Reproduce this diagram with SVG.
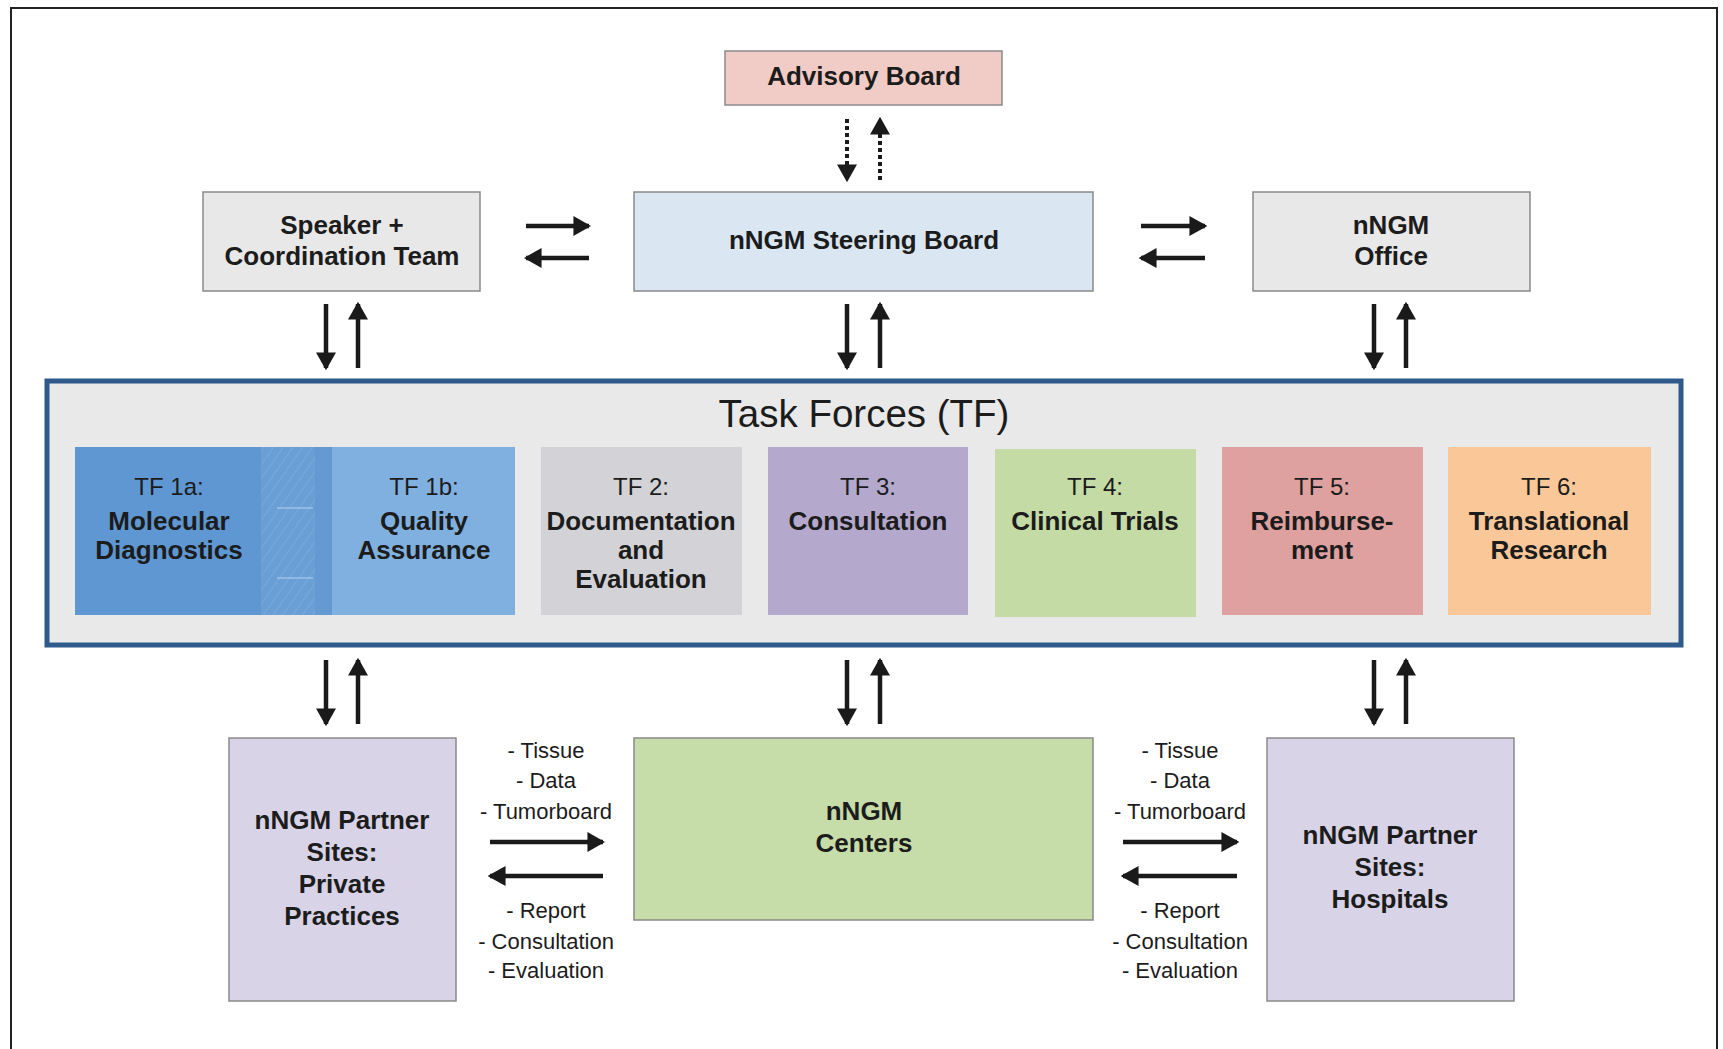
<svg xmlns="http://www.w3.org/2000/svg" width="1723" height="1049" viewBox="0 0 1723 1049">
<defs>
<style>
.box{stroke:#8a8a8a;stroke-width:1.5}
.b{font-family:"Liberation Sans",Arial,sans-serif;font-weight:bold;font-size:26px;fill:#1c1c1c;text-anchor:middle}
.r{font-family:"Liberation Sans",Arial,sans-serif;font-size:24px;fill:#1c1c1c;text-anchor:middle}
.l{font-family:"Liberation Sans",Arial,sans-serif;font-size:22px;fill:#1c1c1c;text-anchor:middle}
.t{font-family:"Liberation Sans",Arial,sans-serif;font-size:38.5px;fill:#1c1c1c;text-anchor:middle}
.a{stroke:#1a1a1a;stroke-width:4.5;fill:none;marker-end:url(#ah)}
.d{stroke:#1a1a1a;stroke-width:4;fill:none;stroke-dasharray:4 3;marker-end:url(#ah)}
</style>
<marker id="ah" markerUnits="userSpaceOnUse" markerWidth="18" markerHeight="20" viewBox="0 0 16 18" refX="14" refY="9" orient="auto">
<path d="M0,0 L16,9 L0,18 Z" fill="#1a1a1a"/>
</marker>
<pattern id="hatch" patternUnits="userSpaceOnUse" width="8" height="8" patternTransform="rotate(35)">
<rect width="8" height="8" fill="#6a9fd6"/>
<line x1="0" y1="0" x2="0" y2="8" stroke="#78a8dc" stroke-width="2"/>
</pattern>
</defs>
<rect width="1723" height="1049" fill="#ffffff"/>
<path d="M11,1049 V8 H1717 V1049" fill="none" stroke="#222" stroke-width="2"/>

<g id="advisory-board">
<rect class="box" x="725" y="51" width="277" height="54" fill="#f1cbc6"/>
<text class="b" x="864" y="85">Advisory Board</text>
</g>
<g id="speaker">
<rect class="box" x="203" y="192" width="277" height="99" fill="#e8e8e8"/>
<text class="b" x="342" y="234">Speaker +</text>
<text class="b" x="342" y="265">Coordination Team</text>
</g>
<g id="steering-board">
<rect class="box" x="634" y="192" width="459" height="99" fill="#dae7f3"/>
<text class="b" x="864" y="249">nNGM Steering Board</text>
</g>
<g id="office">
<rect class="box" x="1253" y="192" width="277" height="99" fill="#e8e8e8"/>
<text class="b" x="1391" y="234">nNGM</text>
<text class="b" x="1391" y="265">Office</text>
</g>

<g id="task-forces">
<rect x="47" y="381" width="1634" height="264" fill="#e9e9e9" stroke="#2e5b8c" stroke-width="5"/>
<text class="t" x="864" y="427">Task Forces (TF)</text>
<g id="tf1a">
<rect x="75" y="447" width="257" height="168" fill="#5e97d2"/>
<rect x="261" y="447" width="54" height="168" fill="url(#hatch)"/>
<rect x="315" y="447" width="17" height="168" fill="#6599d2"/>
<line x1="277" y1="508" x2="313" y2="508" stroke="#9cc0e8" stroke-width="1.5"/>
<line x1="277" y1="578" x2="313" y2="578" stroke="#9cc0e8" stroke-width="1.5"/>
<text class="r" x="169" y="495">TF 1a:</text>
<text class="b" x="169" y="530">Molecular</text>
<text class="b" x="169" y="559">Diagnostics</text>
</g>
<g id="tf1b">
<rect x="332" y="447" width="183" height="168" fill="#80b0e0"/>
<text class="r" x="424" y="495">TF 1b:</text>
<text class="b" x="424" y="530">Quality</text>
<text class="b" x="424" y="559">Assurance</text>
</g>
<g id="tf2">
<rect x="541" y="447" width="201" height="168" fill="#d3d3d7"/>
<text class="r" x="641" y="495">TF 2:</text>
<text class="b" x="641" y="530">Documentation</text>
<text class="b" x="641" y="559">and</text>
<text class="b" x="641" y="588">Evaluation</text>
</g>
<g id="tf3">
<rect x="768" y="447" width="200" height="168" fill="#b4a8cc"/>
<text class="r" x="868" y="495">TF 3:</text>
<text class="b" x="868" y="530">Consultation</text>
</g>
<g id="tf4">
<rect x="995" y="449" width="201" height="168" fill="#c4dba6"/>
<text class="r" x="1095" y="495">TF 4:</text>
<text class="b" x="1095" y="530">Clinical Trials</text>
</g>
<g id="tf5">
<rect x="1222" y="447" width="201" height="168" fill="#dfa19f"/>
<text class="r" x="1322" y="495">TF 5:</text>
<text class="b" x="1322" y="530">Reimburse-</text>
<text class="b" x="1322" y="559">ment</text>
</g>
<g id="tf6">
<rect x="1448" y="447" width="203" height="168" fill="#fac898"/>
<text class="r" x="1549" y="495">TF 6:</text>
<text class="b" x="1549" y="530">Translational</text>
<text class="b" x="1549" y="559">Research</text>
</g>
</g>

<g id="private-practices">
<rect class="box" x="229" y="738" width="227" height="263" fill="#d8d3e6"/>
<text class="b" x="342" y="829">nNGM Partner</text>
<text class="b" x="342" y="861">Sites:</text>
<text class="b" x="342" y="893">Private</text>
<text class="b" x="342" y="925">Practices</text>
</g>
<g id="centers">
<rect class="box" x="634" y="738" width="459" height="182" fill="#c6dca9"/>
<text class="b" x="864" y="820">nNGM</text>
<text class="b" x="864" y="852">Centers</text>
</g>
<g id="hospitals">
<rect class="box" x="1267" y="738" width="247" height="263" fill="#d8d3e6"/>
<text class="b" x="1390" y="844">nNGM Partner</text>
<text class="b" x="1390" y="876">Sites:</text>
<text class="b" x="1390" y="908">Hospitals</text>
</g>

<g id="connectors">
<path class="d" d="M847,119 V180"/>
<path class="d" d="M880,180 V119"/>
<path class="a" d="M526,226 H589"/>
<path class="a" d="M589,258 H526"/>
<path class="a" d="M1141,226 H1205"/>
<path class="a" d="M1205,258 H1141"/>
<path class="a" d="M326,304 V368"/>
<path class="a" d="M358,368 V304"/>
<path class="a" d="M847,304 V368"/>
<path class="a" d="M880,368 V304"/>
<path class="a" d="M1374,304 V368"/>
<path class="a" d="M1406,368 V304"/>
<path class="a" d="M326,660 V724"/>
<path class="a" d="M358,724 V660"/>
<path class="a" d="M847,660 V724"/>
<path class="a" d="M880,724 V660"/>
<path class="a" d="M1374,660 V724"/>
<path class="a" d="M1406,724 V660"/>
<path class="a" d="M490,842 H603"/>
<path class="a" d="M603,876 H490"/>
<path class="a" d="M1123,842 H1237"/>
<path class="a" d="M1237,876 H1123"/>
</g>

<g id="labels">
<text class="l" x="546" y="758">- Tissue</text>
<text class="l" x="546" y="788">- Data</text>
<text class="l" x="546" y="819">- Tumorboard</text>
<text class="l" x="546" y="918">- Report</text>
<text class="l" x="546" y="949">- Consultation</text>
<text class="l" x="546" y="978">- Evaluation</text>
<text class="l" x="1180" y="758">- Tissue</text>
<text class="l" x="1180" y="788">- Data</text>
<text class="l" x="1180" y="819">- Tumorboard</text>
<text class="l" x="1180" y="918">- Report</text>
<text class="l" x="1180" y="949">- Consultation</text>
<text class="l" x="1180" y="978">- Evaluation</text>
</g>
</svg>
